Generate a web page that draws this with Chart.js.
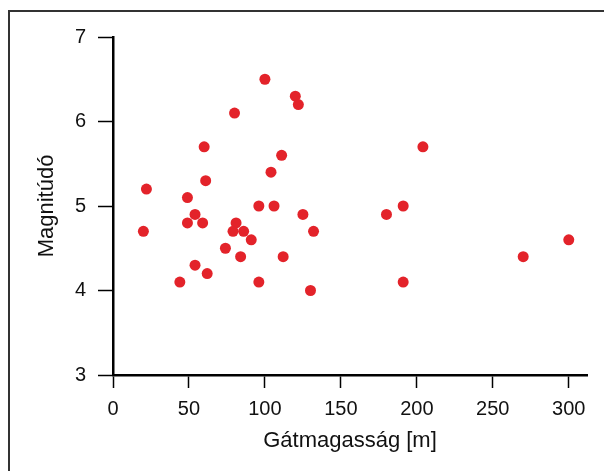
<!DOCTYPE html>
<html>
<head>
<meta charset="utf-8">
<script src="https://cdn.jsdelivr.net/npm/chart.js@4"></script>
<style>
  body { margin: 0; background: #fff; }
  #wrap { position: relative; width: 604px; height: 471px; }
  #frame { position: absolute; left: 8px; top: 10px; width: 610px; height: 480px;
           border-left: 2px solid #333; border-top: 2px solid #333; pointer-events: none; }
</style>
</head>
<body>
<div id="wrap">
  <canvas id="chart" width="604" height="471"></canvas>
  <div id="frame"></div>
</div>
<script>
// dam height (m) and earthquake magnitude
const damHeights = [20, 22, 44, 49, 49, 54, 54, 59, 60, 61, 62, 74, 80, 81, 79, 84, 86, 91,
                    96, 96, 100, 104, 106, 111, 112, 120, 122, 125, 130, 132, 180, 191, 191, 204, 270, 300];
const magnitudes = [4.7, 5.2, 4.1, 5.1, 4.8, 4.9, 4.3, 4.8, 5.7, 5.3, 4.2, 4.5, 6.1, 4.8, 4.7, 4.4, 4.7, 4.6,
                    5.0, 4.1, 6.5, 5.4, 5.0, 5.6, 4.4, 6.3, 6.2, 4.9, 4.0, 4.7, 4.9, 5.0, 4.1, 5.7, 4.4, 4.6];
const xTicks = [0, 50, 100, 150, 200, 250, 300];
const yTicks = [3, 4, 5, 6, 7];

const points = damHeights.map((h, i) => ({ x: h, y: magnitudes[i] }));

const tickFont = { family: 'Liberation Sans', size: 20 };
const titleFont = { family: 'Liberation Sans', size: 22 };

new Chart(document.getElementById('chart'), {
    type: 'scatter',
    data: {
        datasets: [{
            data: points,
            backgroundColor: '#e3232a',
            borderWidth: 0,
            pointRadius: 5.5,
            pointHoverRadius: 5.5,
            clip: false
        }]
    },
    options: {
        responsive: false,
        animation: false,
        layout: { padding: { top: 37, right: 17, left: 0, bottom: 0 } },
        plugins: { legend: { display: false }, tooltip: { enabled: false } },
        scales: {
            x: {
                type: 'linear',
                min: 0,
                max: 312,
                afterBuildTicks: (scale) => { scale.ticks = xTicks.map(v => ({ value: v })); },
                afterFit: (scale) => { scale.height = 96; },
                ticks: { color: '#111', font: tickFont, padding: 9, maxRotation: 0 },
                grid: { drawOnChartArea: false, drawTicks: true, tickLength: 13, tickWidth: 1.5, tickColor: '#000' },
                border: { display: true, color: '#000', width: 2.5 },
                title: { display: true, text: 'Gátmagasság [m]', color: '#111', font: titleFont,
                         padding: { top: 0, bottom: 17 } }
            },
            y: {
                type: 'linear',
                min: 3,
                max: 7,
                afterBuildTicks: (scale) => { scale.ticks = yTicks.map(v => ({ value: v })); },
                afterFit: (scale) => { scale.width = 113; },
                ticks: { color: '#111', font: tickFont, padding: 12 },
                grid: { drawOnChartArea: false, drawTicks: true, tickLength: 15, tickWidth: 1.5, tickColor: '#000' },
                border: { display: true, color: '#000', width: 2.5 },
                title: { display: true, text: 'Magnitúdó', color: '#111', font: titleFont,
                         padding: { top: 34, bottom: 0 } }
            }
        }
    }
});
</script>
</body>
</html>
